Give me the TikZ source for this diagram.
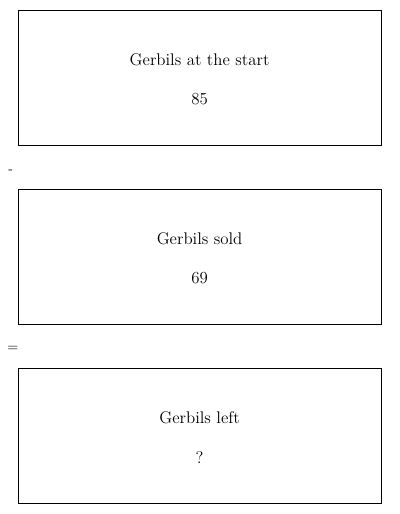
\documentclass[tikz,border=0pt]{standalone}
\usetikzlibrary{calc}

\begin{document}
\begin{tikzpicture}
    \tikzstyle{quantity} = [draw=black, line width=0.6pt, minimum width=9.075cm, minimum height=3.375cm, inner sep=0pt]
    \tikzstyle{label} = [font=\large]
    \useasboundingbox (0, 0) rectangle (10, 12.85);
    % the three boxes
    \node[quantity] (start) at (4.99, 10.9125) {};
    \node[quantity] (sold) at (4.99, 6.4375) {};
    \node[quantity] (left) at (4.99, 1.9625) {};
    \node[label] (starttext) at ($(start.center) + (0, 0.44)$) {Gerbils at the start};
    \node[label] (startnum) at ($(start.center) + (0, -0.54)$) {85};
    \node[label] (soldtext) at ($(sold.center) + (0, 0.44)$) {Gerbils sold};
    \node[label] (soldnum) at ($(sold.center) + (0, -0.54)$) {69};
    \node[label] (lefttext) at ($(left.center) + (0, 0.44)$) {Gerbils left};
    \node[label] (leftnum) at ($(left.center) + (0, -0.54)$) {?};
    % operators between the boxes
    \node (minus) at (0.27, 8.55) {-};
    \node (equals) at (0.32, 4.125) {=};
\end{tikzpicture}
\end{document}
